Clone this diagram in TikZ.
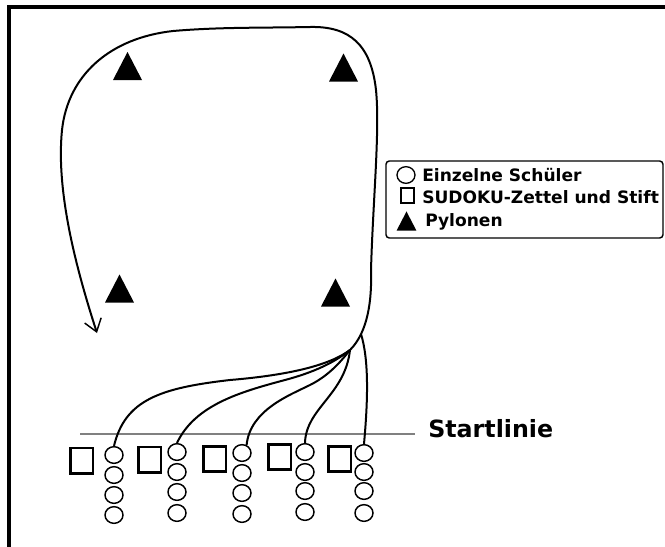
\documentclass[tikz,border=0pt]{standalone}
\usepackage{fontspec}
\setmainfont{DejaVu Sans}
\usetikzlibrary{arrows.meta,shapes.geometric}
\begin{document}
\begin{tikzpicture}[x=0.75pt,y=-0.75pt,
  stud/.style={draw, ellipse, line width=1.1pt, minimum width=13.5pt, minimum height=12.5pt, inner sep=0pt},
  sudoku/.style={draw, line width=2.2pt, minimum width=17.2pt, minimum height=18.8pt, inner sep=0pt},
  route/.style={line width=1.5pt},
  legtext/.style={anchor=base west, inner sep=0pt, font=\bfseries\fontsize{12.8}{15}\selectfont},
  pylon/.pic={\fill (0,-14) -- (14.5,14) -- (-14.5,14) -- cycle;}
]
\useasboundingbox (0,0) rectangle (665,547);
% frame
\draw[line width=2.3pt] (9,547) -- (9,7) -- (665,7);

% pylons
\pic (p1) at (127.5,66) {pylon};
\pic (p2) at (343.5,67.5) {pylon};
\pic (p3) at (119.5,288.5) {pylon};
\pic (p4) at (335.5,292.5) {pylon};

% start line
\coordinate (sl1) at (80,434);
\coordinate (sl2) at (415,434);
\draw[gray, line width=0.8pt] (sl1) -- (sl2);
\node[anchor=base west, inner sep=0pt, font=\bfseries\fontsize{17.8}{20}\selectfont] (start) at (428,437) {Startlinie};

% sudoku sheets
\node[sudoku] (q1) at (81.5,460.5) {};
\node[sudoku] (q2) at (149.5,459.5) {};
\node[sudoku] (q3) at (214.5,459) {};
\node[sudoku] (q4) at (279.5,457) {};
\node[sudoku] (q5) at (339.5,459) {};

% students
\foreach \c/\x/\ya/\yb/\yc/\yd in {1/114/455/475/495/515, 2/177/452/472/492/513, 3/242/453/473/493/514, 4/305/452/472/491/512, 5/364/453/472/491/513}{
  \node[stud] (s\c a) at (\x,\ya) {};
  \node[stud] (s\c b) at (\x,\yb) {};
  \node[stud] (s\c c) at (\x,\yc) {};
  \node[stud] (s\c d) at (\x,\yd) {};
}

% merge points
\coordinate (m1) at (350,350);
\coordinate (m2) at (361,334);

% main route
\draw[route, -{Straight Barb[length=9pt,width=13pt,line width=1.1pt]}]
  (s1a.north) .. controls (125,400) and (160,388) .. (230,380)
  .. controls (290,375) and (330,365) .. (m1)
  .. controls (368,332) and (372,300) .. (371,270)
  .. controls (373,200) and (380,130) .. (376,90)
  .. controls (371,45) and (350,26) .. (310,27)
  .. controls (260,28) and (220,27) .. (173,31)
  .. controls (110,38) and (68,75) .. (62,130)
  .. controls (56,190) and (75,265) .. (97,333);

% fan lines
\draw[route] (s2a.north) .. controls (195,405) and (240,392) .. (285,380)
  .. controls (315,372) and (335,362) .. (m1);
\draw[route] (s3a.60) .. controls (250,410) and (290,395) .. (310,385)
  .. controls (330,375) and (342,360) .. (m1);
\draw[route] (s4a.north) .. controls (306,408) and (345,395) .. (m1);
\draw[route] (s5a.north) .. controls (368,400) and (369,360) .. (m2);

% legend
\draw[line width=1.1pt, rounded corners=2.5pt] (386,161) rectangle (663,238);
\node[stud, line width=1pt] (lc) at (406,175) {};
\node[draw, line width=1.1pt, minimum width=9.5pt, minimum height=11pt, inner sep=0pt] (lq) at (407.5,195.5) {};
\pic[scale=0.68] (lp) at (406.5,221) {pylon};
\node[legtext] (t1) at (422,181) {Einzelne Schüler};
\node[legtext] (t2) at (422,203) {SUDOKU-Zettel und Stift};
\node[legtext] (t3) at (425,226) {Pylonen};
\end{tikzpicture}
\end{document}
